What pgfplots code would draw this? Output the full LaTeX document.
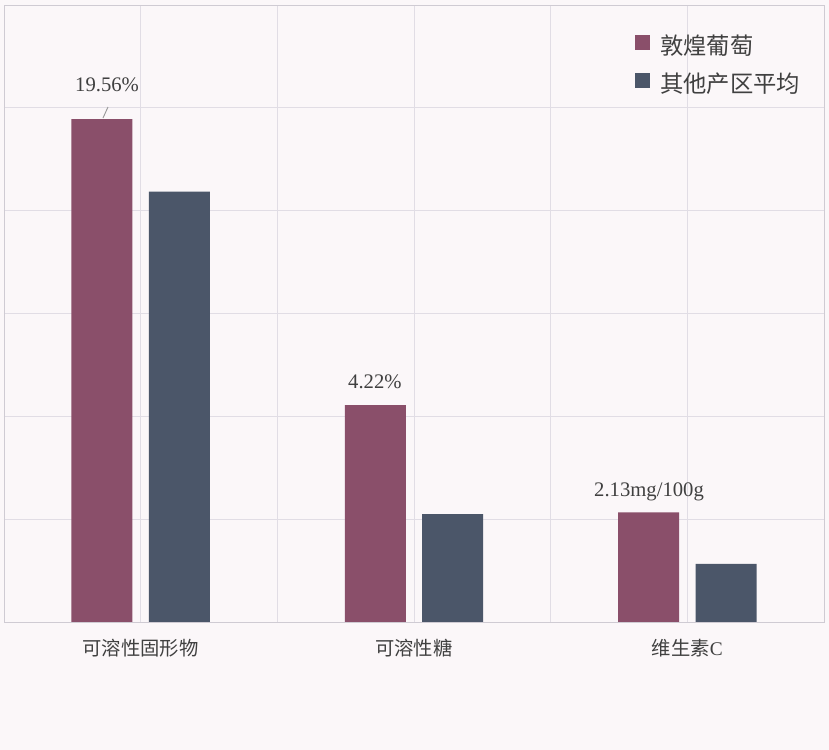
\documentclass[border=0pt]{standalone}
\usepackage{pgfplots}
\pgfplotsset{compat=1.18}
\usepackage{fontspec}
\setmainfont{Liberation Serif}
\newfontfamily\cjk{Noto Sans CJK SC}
\definecolor{bg}{HTML}{FBF7F9}
\definecolor{wine}{HTML}{8A4F6A}
\definecolor{slate}{HTML}{4B5669}
\definecolor{gridc}{HTML}{E1DDE5}
\definecolor{framec}{HTML}{CFCBD3}
\definecolor{txt}{HTML}{404040}

\begin{document}
\begin{tikzpicture}
\fill[bg] (0,0) rectangle (621.75pt,562.5pt);
\begin{axis}[
    at={(3pt,96pt)}, anchor=south west,
    scale only axis, width=615pt, height=462.75pt,
    ybar=12.25pt, bar width=45.75pt,
    xmin=-0.5, xmax=2.5, ymin=0, ymax=6,
    xtick={0,1,2}, minor xtick={0.5,1.5},
    xticklabels={{\cjk 可溶性固形物}, {\cjk 可溶性糖}, {\cjk 维生素}C},
    xticklabel style={font=\fontsize{14.5}{17}\selectfont, text=txt, inner sep=0pt, yshift=-13pt},
    ytick={1,2,3,4,5}, yticklabels={},
    major tick length=0pt, minor tick length=0pt,
    xmajorgrids, xminorgrids, ymajorgrids,
    major grid style={draw=gridc, line width=0.6pt},
    minor grid style={draw=gridc, line width=0.6pt},
    axis line style={draw=framec, line width=0.7pt},
    legend style={at={(axis description cs:0.7695,0.951)}, anchor=north west,
        draw=none, fill=none, inner sep=0pt, row sep=10pt,
        font=\cjk\fontsize{17.5}{21}\selectfont, text=txt,
        nodes={inner sep=0pt, text height=13pt, text depth=4pt},
        /tikz/every odd column/.append style={column sep=7.5pt}},
    legend cell align=left,
    legend image code/.code={\fill[#1] (0pt,-1.3pt) rectangle (11.25pt,9.95pt);},
]
\addplot[fill=wine, draw=none] coordinates {(0,4.889) (1,2.11) (2,1.065)};
\addplot[fill=slate, draw=none] coordinates {(0,4.185) (1,1.05) (2,0.564)};
\legend{敦煌葡萄, 其他产区平均}
\draw[gray!80, line width=0.7pt] (axis cs:-0.1378,4.901) -- (axis cs:-0.1195,5.008);
\node[font=\fontsize{15.5}{18}\selectfont, text=txt] at (axis cs:-0.123,5.225) {19.56\%};
\node[font=\fontsize{15.5}{18}\selectfont, text=txt] at (axis cs:0.857,2.335) {4.22\%};
\node[font=\fontsize{15.5}{18}\selectfont, text=txt] at (axis cs:1.860,1.262) {2.13mg/100g};
\end{axis}
\pgfresetboundingbox
\path (0,0) rectangle (621.75pt,562.5pt);
\end{tikzpicture}
\end{document}
